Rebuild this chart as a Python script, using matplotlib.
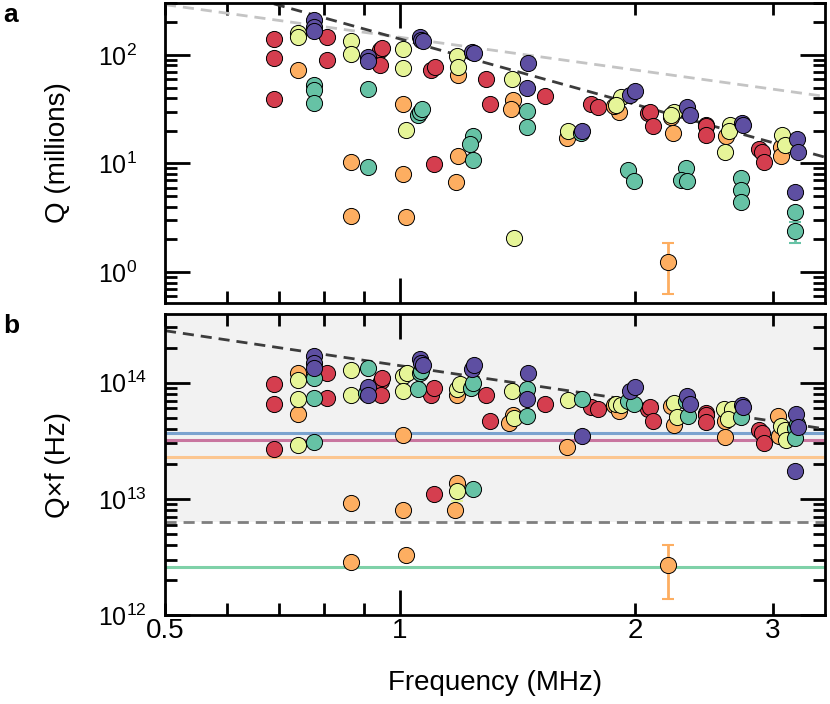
import numpy as np
import matplotlib.pyplot as plt

plt.rcParams['font.family'] = ['Liberation Sans', 'DejaVu Sans']
plt.rcParams['mathtext.default'] = 'regular'

# Series colours (Spectral palette)
RED, ORANGE, YELLOW, GREEN, PURPLE = '#d53e4f', '#fdae61', '#e6f598', '#66c2a5', '#5e4fa2'

# ---- panel a: Q (millions) vs frequency (MHz) ----
f_red_a = [0.689, 0.689, 0.689, 0.807, 0.807, 0.943, 0.948, 0.943, 1.097, 1.108, 1.106, 1.29, 1.303,
           1.533, 1.756, 1.794, 2.076, 2.09, 2.11, 2.466, 2.466, 2.466, 2.877, 2.905, 2.92]
q_red_a = [140, 94, 39, 147, 90, 111, 115, 81, 73, 78, 9.9, 60, 35.3,
           42, 35, 33, 29, 30, 22, 22.6, 22.2, 18.3, 13.5, 12.8, 10.4]

f_orange_a = [0.739, 0.866, 0.866, 1.01, 1.01, 1.019, 1.187, 1.187, 1.178, 1.394, 1.386, 1.635,
              1.909, 1.877, 2.239, 2.225, 2.612, 3.07, 3.07]
q_orange_a = [73, 10.4, 3.28, 35.3, 8.0, 3.24, 65, 11.6, 6.8, 38.5, 32, 17,
              30, 34, 19.2, 27, 17.9, 14.3, 11.6]

f_yellow_a = [0.739, 0.739, 0.866, 0.866, 1.01, 1.01, 1.019, 1.181, 1.187, 1.389, 1.4, 1.642,
              1.918, 1.888, 2.24, 2.225, 2.648, 2.634, 2.61, 3.083, 3.113]
q_yellow_a = [158, 146, 135, 102, 113, 75, 20.4, 97, 78, 60, 2.07, 20,
              41, 34.6, 30, 28, 22.6, 20, 12.8, 18.3, 14.8]

f_green_a = [0.775, 0.775, 0.775, 0.91, 0.91, 1.055, 1.06, 1.067, 1.24, 1.228, 1.24, 1.452, 1.452,
             1.705, 1.96, 1.995, 2.32, 2.29, 2.33, 2.73, 2.73, 2.73, 3.2]
q_green_a = [53, 47.6, 36, 49, 9.3, 28, 30, 32, 17.9, 15.1, 10.8, 30.5, 21.8,
             19, 8.7, 6.9, 9, 7.05, 6.95, 7.3, 5.7, 4.45, 3.6]

f_purple_a = [0.776, 0.776, 0.776, 0.91, 0.91, 1.06, 1.065, 1.07, 1.235, 1.244, 1.459, 1.452, 1.711,
              1.97, 2.0, 2.33, 2.35, 2.74, 2.75, 3.22, 3.23, 3.2]
q_purple_a = [210, 182, 166, 96, 87, 147, 137, 133, 107, 104, 84, 50, 20,
              42.8, 46, 33, 28, 23.8, 22.6, 16.8, 12.7, 5.5]

# points with error bars (f, Q, lower err, upper err)
err_orange_a = (2.206, 1.24, 0.61, 0.60)
err_green_a = (3.2, 2.4, 0.54, 0.50)

# ---- panel b: Q x f (Hz) vs frequency (MHz) ----
f_red_b = [0.689, 0.689, 0.689, 0.807, 0.807, 0.944, 0.949, 0.944, 1.097, 1.106, 1.106, 1.29, 1.303,
           1.533, 1.756, 1.794, 2.076, 2.09, 2.11, 2.466, 2.466, 2.466, 2.877, 2.905, 2.92]
qf_red_b = [9.8e13, 6.6e13, 2.7e13, 1.2e14, 7.4e13, 1.03e14, 1.1e14, 7.8e13, 7.9e13, 9.06e13, 1.1e13, 7.8e13, 4.66e13,
            6.5e13, 6.2e13, 5.96e13, 5.9e13, 6.2e13, 4.7e13, 5.5e13, 5.3e13, 4.57e13, 3.95e13, 3.7e13, 3.03e13]

f_orange_b = [0.739, 0.739, 0.866, 0.866, 1.01, 1.01, 1.019, 1.184, 1.184, 1.174, 1.394, 1.38, 1.635,
              1.877, 1.909, 2.22, 2.24, 2.61, 2.61, 3.05, 3.06]
qf_orange_b = [1.2e14, 5.4e13, 9.2e12, 2.87e12, 3.57e13, 8.0e12, 3.3e12, 7.8e13, 1.37e13, 8.0e12, 5.3e13, 4.5e13, 2.8e13,
               6.4e13, 5.7e13, 6.3e13, 4.3e13, 4.66e13, 3.4e13, 5.15e13, 3.5e13]

f_yellow_b = [0.739, 0.739, 0.741, 0.866, 0.866, 1.01, 1.02, 1.01, 1.181, 1.192, 1.389, 1.4, 1.642,
              1.888, 1.92, 2.24, 2.26, 2.6, 2.66, 2.63, 3.07, 3.11, 3.12]
qf_yellow_b = [1.05e14, 7.2e13, 2.9e13, 1.28e14, 7.9e13, 1.13e14, 1.2e14, 8.5e13, 8.75e13, 9.7e13, 8.5e13, 5.0e13, 7.07e13,
               6.5e13, 6.4e13, 6.7e13, 5.1e13, 5.9e13, 5.9e13, 4.9e13, 4.2e13, 3.95e13, 3.24e13]

f_green_b = [0.775, 0.775, 0.775, 0.91, 0.905, 1.06, 1.065, 1.055, 1.232, 1.24, 1.24, 1.452, 1.452,
             1.708, 1.96, 1.995, 2.32, 2.34, 2.73, 3.2, 3.2, 3.22]
qf_green_b = [1.09e14, 7.4e13, 3.07e13, 1.35e14, 8.2e13, 1.22e14, 1.26e14, 8.75e13, 9.06e13, 1.0e14, 1.22e13, 8.75e13, 5.2e13,
              7.3e13, 6.9e13, 6.6e13, 6.9e13, 5.2e13, 5.1e13, 4.08e13, 3.35e13, 4.37e13]

f_purple_b = [0.775, 0.775, 0.776, 0.91, 0.91, 1.06, 1.065, 1.07, 1.235, 1.244, 1.459, 1.452, 1.711,
              1.97, 2.0, 2.33, 2.35, 2.74, 2.75, 3.21, 3.23, 3.2]
qf_purple_b = [1.68e14, 1.47e14, 1.33e14, 9.1e13, 7.9e13, 1.59e14, 1.47e14, 1.42e14, 1.32e14, 1.41e14, 1.22e14, 7.3e13, 3.45e13,
               8.5e13, 9.2e13, 7.66e13, 6.5e13, 6.4e13, 6.2e13, 5.4e13, 4.17e13, 1.75e13]

err_orange_b = (2.2, 2.7e12, 1.33e12, 1.3e12)
err_yellow_b = (1.184, 1.17e13, 0.22e13, 0.0)

# reference levels in panel b (Hz)
hlines_b = [(3.7e13, '#7ba3cf'), (3.2e13, '#c9769f'), (2.3e13, '#fcc690'), (2.6e12, '#7fd1a8')]
qf_limit = 6.3e12          # dashed grey threshold, shaded above

# guide lines
Q1_COEF = 145.0            # Q = 145 / f   (light grey, panel a)
Q2_COEF = 140.0            # Q = 140 / f^2 (dark, panel a)
QF_COEF = 1.4e14           # Qf = 1.4e14 / f (dark, panel b)

fig = plt.figure(figsize=(8.3, 7.04), dpi=100)
ax_a = fig.add_axes([165 / 830, 1 - 303 / 704, 660 / 830, 300 / 704])
ax_b = fig.add_axes([165 / 830, 1 - 615 / 704, 660 / 830, 301 / 704])

fgrid = np.array([0.5, 3.5])
dash = (0, (4, 2.5))

mk = dict(s=135, edgecolors='black', linewidths=0.7, zorder=3)

# panel a
ax_a.plot(fgrid, Q1_COEF / fgrid, color='#c4c4c4', lw=2, ls=dash, zorder=2)
ax_a.plot(fgrid, Q2_COEF / fgrid ** 2, color='#3c3c3c', lw=2, ls=dash, zorder=2)
for (f, q), c in zip([(f_red_a, q_red_a), (f_orange_a, q_orange_a), (f_yellow_a, q_yellow_a),
                      (f_green_a, q_green_a), (f_purple_a, q_purple_a)],
                     [RED, ORANGE, YELLOW, GREEN, PURPLE]):
    ax_a.scatter(f, q, color=c, **mk)
for (f, q, lo, hi), c in [(err_orange_a, ORANGE), (err_green_a, GREEN)]:
    ax_a.errorbar([f], [q], yerr=[[lo], [hi]], fmt='none', ecolor=c, elinewidth=2, capsize=4, capthick=1.5, zorder=2.5)
    ax_a.scatter([f], [q], color=c, **mk)

# panel b
ax_b.axhspan(qf_limit, 1e16, color='#f2f2f2', zorder=0, lw=0)
ax_b.axhline(qf_limit, color='#7f7f7f', lw=2, ls=dash, zorder=1)
for y, c in hlines_b:
    ax_b.axhline(y, color=c, lw=2.2, zorder=1)
ax_b.plot(fgrid, QF_COEF / fgrid, color='#3c3c3c', lw=2, ls=dash, zorder=2)
for (f, q), c in zip([(f_red_b, qf_red_b), (f_orange_b, qf_orange_b), (f_yellow_b, qf_yellow_b),
                      (f_green_b, qf_green_b), (f_purple_b, qf_purple_b)],
                     [RED, ORANGE, YELLOW, GREEN, PURPLE]):
    ax_b.scatter(f, q, color=c, **mk)
for (f, q, lo, hi), c in [(err_orange_b, ORANGE), (err_yellow_b, YELLOW)]:
    ax_b.errorbar([f], [q], yerr=[[lo], [hi]], fmt='none', ecolor=c, elinewidth=2, capsize=4, capthick=1.5, zorder=2.5)
    ax_b.scatter([f], [q], color=c, **mk)

ax_a.set_ylim(0.52, 300)
ax_b.set_ylim(1e12, 3.9e14)

for ax, yt in ((ax_a, [1, 10, 100]), (ax_b, [1e12, 1e13, 1e14])):
    ax.set_xscale('log')
    ax.set_yscale('log')
    ax.set_xlim(0.5, 3.5)
    ax.set_xticks([1], ['1'])
    ax.set_xticks([0.5, 0.6, 0.7, 0.8, 0.9, 2, 3], ['0.5', '', '', '', '', '2', '3'], minor=True)
    ax.set_yticks(yt)
    ax.tick_params(which='both', direction='in', top=True, right=True, width=2)
    ax.tick_params(which='major', length=18)
    ax.tick_params(which='minor', length=8.5)
    ax.tick_params(axis='x', which='both', labelsize=20, pad=2)
    ax.tick_params(axis='y', which='both', labelsize=18, pad=48)
    for lab in ax.get_yticklabels():
        lab.set_horizontalalignment('left')
    for sp in ax.spines.values():
        sp.set_linewidth(2)

ax_a.tick_params(axis='x', which='both', labelbottom=False)

ax_a.set_ylabel('Q (millions)', fontsize=20)
ax_b.set_ylabel('Q×f (Hz)', fontsize=20)
ax_b.set_xlabel('Frequency (MHz)', fontsize=20)
ax_a.yaxis.set_label_coords(-0.142, 0.5)
ax_b.yaxis.set_label_coords(-0.142, 0.5)
ax_b.xaxis.set_label_coords(0.5, -0.182)

fig.text(3 / 830, 1 - 22 / 704, 'a', fontsize=19, fontweight='bold')
fig.text(3 / 830, 1 - 333 / 704, 'b', fontsize=19, fontweight='bold')

fig.savefig('out.png', dpi=100)
